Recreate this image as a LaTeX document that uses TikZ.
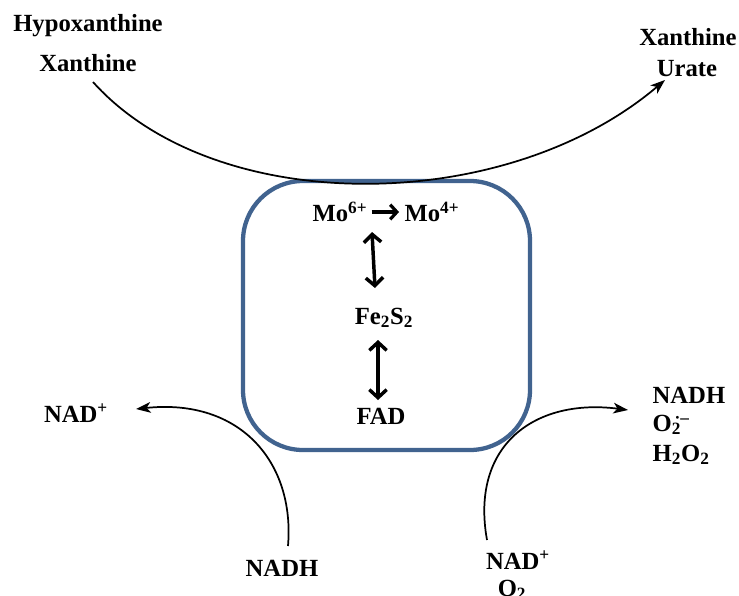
\documentclass[tikz,border=0pt]{standalone}
\usepackage{fontspec}
\setmainfont{Liberation Serif}
\usetikzlibrary{arrows.meta}
\definecolor{boxblue}{HTML}{41638F}
\begin{document}
\begin{tikzpicture}[x=0.75pt,y=-0.75pt,
  lbl/.style={font=\fontsize{18.5}{22}\selectfont\bfseries, inner sep=1pt},
  flow/.style={line width=1.3pt, -{Stealth[length=11pt,width=8pt,inset=3pt]}},
  swap/.style={line width=2.6pt, {Straight Barb[length=6pt,width=13pt,line width=2.6pt]}-{Straight Barb[length=6pt,width=13pt,line width=2.6pt]}},
  step2/.style={line width=2.4pt, -{Straight Barb[length=5pt,width=11pt,line width=2.4pt]}}]
\useasboundingbox (0,0) rectangle (739,596);

% enzyme core
\draw[boxblue, line width=3.2pt, rounded corners=45] (243,181) rectangle (530,450);

% substrates and products
\node[lbl] (hyp) at (88,26) {Hypoxanthine};
\node[lbl] (xan) at (88,63) {Xanthine};
\node[lbl] (xan2) at (688,37) {Xanthine};
\node[lbl] (urate) at (687,69) {Urate};

\node[lbl] (mo6) at (340,212) {Mo\textsuperscript{6+}};
\node[lbl] (mo4) at (432,212) {Mo\textsuperscript{4+}};
\node[lbl] (fes) at (384,318) {Fe\textsubscript{2}S\textsubscript{2}};
\node[lbl] (fad) at (381,416) {FAD};

\node[lbl] (nadl) at (76,413) {NAD\textsuperscript{+}};
\node[lbl] (nadhb) at (282,568) {NADH};
\node[lbl, anchor=west] (nadhr) at (651,395) {NADH};
\node[lbl, anchor=west] (o2r) at (651,425) {O\rlap{\textsubscript{2}}\textsuperscript{\,·–}};
\node[lbl, anchor=west] (h2o2) at (651,455) {H\textsubscript{2}O\textsubscript{2}};
\node[lbl] (nadb) at (518,560) {NAD\textsuperscript{+}};
\node[lbl] (o2b) at (512,590) {O\textsubscript{2}};

% connector end points
\coordinate (tstart) at (93,82);
\coordinate (tend) at (665,80);
\coordinate (lstart) at (288,546);
\coordinate (lend) at (136,409);
\coordinate (rstart) at (487,540);
\coordinate (rend) at (628,410);

% reactions
\draw[flow] (tstart) .. controls (215,218) and (505,216) .. (tend);
\draw[flow] (lstart) .. controls (295,462) and (240,398) .. (lend);
\draw[flow] (rstart) .. controls (470,445) and (535,398) .. (rend);

% electron transfer
\draw[step2, shorten <=2pt, shorten >=3pt] (mo6.east) -- (mo4.west);
\draw[swap] (372,232) -- (375,288);
\draw[swap] (378,340) -- (378,400);
\end{tikzpicture}
\end{document}
